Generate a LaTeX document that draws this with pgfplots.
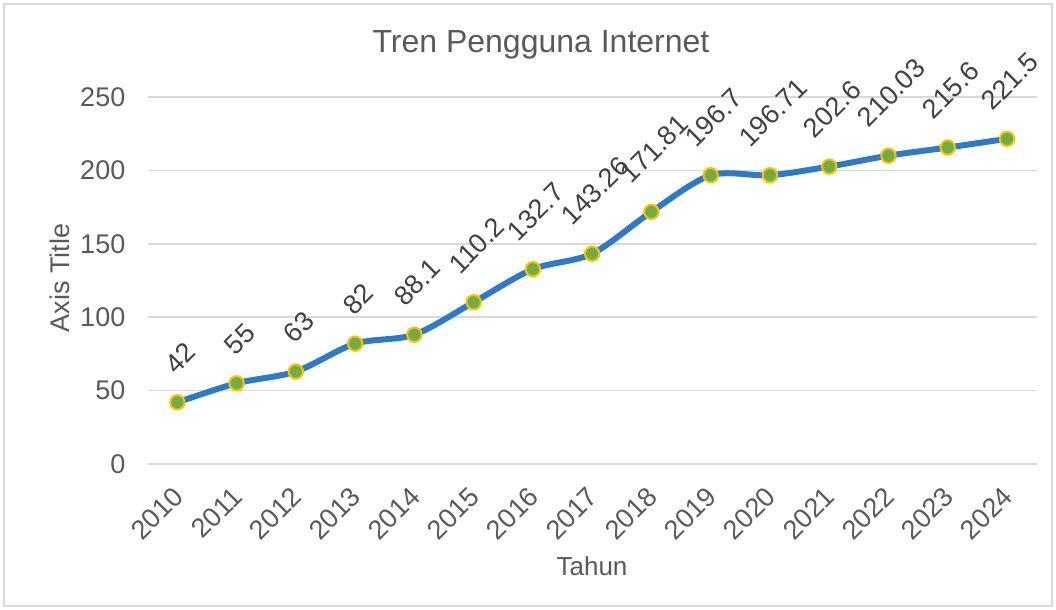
\documentclass[border=0pt]{standalone}
\usepackage{fontspec}
\setmainfont{Liberation Sans}
\usepackage{graphicx}
\usepackage{pgfplots}
\usepackage{pgfplotstable}
\pgfplotsset{compat=1.18}
\definecolor{lineblue}{HTML}{2E7AC4}
\definecolor{mkgreen}{HTML}{70AD47}
\definecolor{mkgold}{HTML}{FFC000}
\definecolor{gridgray}{HTML}{D9D9D9}
\definecolor{txtgray}{HTML}{595959}
\definecolor{lblgray}{HTML}{404040}
\pgfplotstableread{
year val lab
2010 42 42
2011 55 55
2012 63 63
2013 82 82
2014 88.1 88.1
2015 110.2 110.2
2016 132.7 132.7
2017 143.26 143.26
2018 171.81 171.81
2019 196.7 196.7
2020 196.71 196.71
2021 202.6 202.6
2022 210.03 210.03
2023 215.6 215.6
2024 221.5 221.5
}\data
\begin{document}
\begin{tikzpicture}
\path[use as bounding box] (0,0) rectangle (528pt,305pt);
\draw[gridgray, line width=0.6pt] (2pt,2pt) rectangle (526pt,303pt);
\begin{axis}[
  at={(73.85pt,73pt)}, anchor=south west,
  scale only axis, width=444.45pt, height=183.5pt,
  xmin=2009.5, xmax=2024.5, ymin=0, ymax=250,
  clip=false,
  axis line style={draw=none},
  major tick style={draw=none},
  ymajorgrids, grid style={gridgray, line width=0.8pt},
  ytick={0,50,...,250},
  /pgf/number format/assume math mode=true,
  yticklabel style={font=\fontsize{13.5}{16}\selectfont, text=txtgray, anchor=east, inner sep=0pt, xshift=-11pt},
  xtick={2010,...,2024},
  xticklabels={\rotatebox{45}{2010},\rotatebox{45}{2011},\rotatebox{45}{2012},\rotatebox{45}{2013},\rotatebox{45}{2014},\rotatebox{45}{2015},\rotatebox{45}{2016},\rotatebox{45}{2017},\rotatebox{45}{2018},\rotatebox{45}{2019},\rotatebox{45}{2020},\rotatebox{45}{2021},\rotatebox{45}{2022},\rotatebox{45}{2023},\rotatebox{45}{2024}},
  xticklabel style={font=\fontsize{13.5}{16}\selectfont, text=txtgray, anchor=north east, inner sep=0pt, xshift=4pt, yshift=-10.5pt},
  point meta=explicit symbolic,
  nodes near coords={\rotatebox{45}{\pgfplotspointmeta}},
  every node near coord/.append style={font=\fontsize{13.5}{16}\selectfont, text=lblgray, anchor=south, inner sep=0pt, xshift=1.5pt, yshift=13pt},
]
\addplot[lineblue, line width=3pt, smooth, tension=0.5,
  mark=*, mark size=3.6pt,
  mark options={fill=mkgreen, draw=mkgold, line width=1pt}]
  table[x=year, y=val, meta=lab] {\data};
\end{axis}
\node[font=\fontsize{16}{19}\selectfont, text=txtgray] at (270.5pt,282.5pt) {Tren Pengguna Internet};
\node[font=\fontsize{13}{16}\selectfont, text=txtgray] at (296pt,22pt) {Tahun};
\node[font=\fontsize{13.5}{16}\selectfont, text=txtgray, rotate=90] at (30pt,166pt) {Axis Title};
\end{tikzpicture}
\end{document}
